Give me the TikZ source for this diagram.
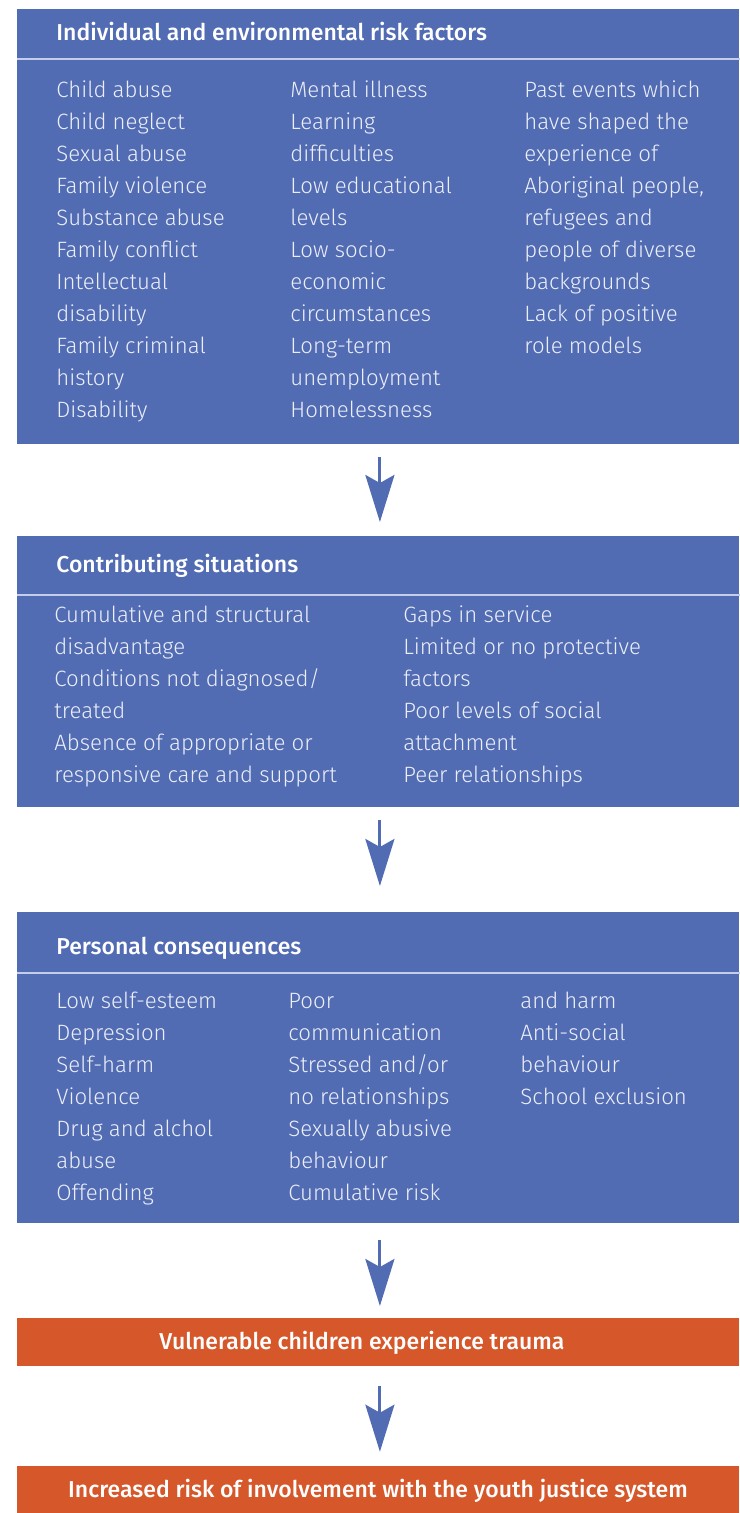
\documentclass[tikz,border=0pt]{standalone}
\usepackage{fontspec}
\setmainfont{Fira Sans}
\IfFontExistsTF{Fira Sans Light}
  {\newfontfamily\bodyfont{Fira Sans Light}}
  {\newfontfamily\bodyfont{Fira Sans}}
\IfFontExistsTF{Fira Sans Medium}
  {\newfontfamily\headfont{Fira Sans Medium}}
  {\newfontfamily\headfont{Fira Sans}[UprightFont=*, UprightFeatures={FakeBold=1}]}
\usetikzlibrary{arrows.meta,positioning}
\definecolor{riskblue}{RGB}{82,108,180}
\definecolor{traumaorange}{RGB}{213,87,42}
\definecolor{rulecolor}{RGB}{196,206,234}
\definecolor{bodytext}{RGB}{236,239,248}
\tikzset{
  font=\fontsize{11.1}{16}\selectfont\bodyfont,
  panel/.style={
    fill=riskblue,
    anchor=north west,
    minimum width=361pt,
    inner sep=0pt
  },
  band/.style={
    fill=traumaorange,
    anchor=north west,
    minimum width=361pt,
    inner sep=0pt
  },
  head/.style={
    anchor=base west,
    inner sep=0pt,
    text=white,
    font=\fontsize{11.5}{16}\selectfont\headfont
  },
  % base of a column = baseline of its last line
  col/.style={
    anchor=base west,
    inner sep=0pt,
    align=left,
    text=bodytext
  },
  bandtext/.style={
    anchor=base,
    inner sep=0pt,
    text=white,
    font=\fontsize{11.5}{16}\selectfont\headfont
  },
  divider/.style={draw=rulecolor, line width=0.9pt},
  arrow/.style={draw=riskblue, line width=1.5pt,
    -{Stealth[length=23.5pt, width=14.5pt, inset=4pt]}}
}
\begin{document}
\begin{tikzpicture}[x=0.5pt, y=-0.5pt]
\useasboundingbox (0,0) rectangle (739,1513);

% --- panels, top to bottom ---
\node[panel, minimum height=217.35pt] (risk) at (17,9) {};
\node[panel, minimum height=135.35pt] (situations) at (17,536) {};
\node[panel, minimum height=155.35pt] (consequences) at (17,912) {};
\node[band, minimum height=24pt] (trauma) at (17,1318) {};
\node[band, minimum height=23.5pt] (justice) at (17,1466) {};

% --- header rules ---
\draw[divider] ([yshift=-25pt]risk.north west) -- ([yshift=-25pt]risk.north east);
\draw[divider] ([yshift=-29.65pt]situations.north west) -- ([yshift=-29.65pt]situations.north east);
\draw[divider] ([yshift=-30.5pt]consequences.north west) -- ([yshift=-30.5pt]consequences.north east);

% --- Individual and environmental risk factors ---
\node[head] (riskhead) at (56,41) {Individual and environmental risk factors};
\node[col] (riskA) at (56,417.5) {Child abuse\\Child neglect\\Sexual abuse\\Family violence\\Substance abuse\\Family conflict\\Intellectual\\disability\\Family criminal\\history\\Disability};
\node[col] (riskB) at (290,417.5) {Mental illness\\Learning\\difficulties\\Low educational\\levels\\Low socio-\\economic\\circumstances\\Long-term\\unemployment\\Homelessness};
\node[col] (riskC) at (524,353.5) {Past events which\\have shaped the\\experience of\\Aboriginal people,\\refugees and\\people of diverse\\backgrounds\\Lack of positive\\role models};

% --- Contributing situations ---
\node[head] (sithead) at (56,572.7) {Contributing situations};
\node[col] (sitA) at (54,782) {Cumulative and structural\\disadvantage\\Conditions not diagnosed/\\treated\\Absence of appropriate or\\responsive care and support};
\node[col] (sitB) at (403,782) {Gaps in service\\Limited or no protective\\factors\\Poor levels of social\\attachment\\Peer relationships};

% --- Personal consequences ---
\node[head] (conhead) at (56,954) {Personal consequences};
\node[col] (conA) at (56,1200) {Low self-esteem\\Depression\\Self-harm\\Violence\\Drug and alchol\\abuse\\Offending};
\node[col] (conB) at (288,1200) {Poor\\communication\\Stressed and/or\\no relationships\\Sexually abusive\\behaviour\\Cumulative risk};
\node[col] (conC) at (520,1104) {and harm\\Anti-social\\behaviour\\School exclusion};

% --- outcome bands ---
\node[bandtext] (traumatext) at (362,1349) {Vulnerable children experience trauma};
\node[bandtext] (justicetext) at (378,1497) {Increased risk of involvement with the youth justice system};

% --- arrows ---
\draw[arrow, shorten <=6.15pt, shorten >=7pt] ([xshift=0.75pt]risk.south) -- ([xshift=0.75pt]situations.north);
\draw[arrow, shorten <=6.15pt, shorten >=13pt] ([xshift=0.75pt]situations.south) -- ([xshift=0.75pt]consequences.north);
\draw[arrow, shorten <=8.15pt, shorten >=6pt] ([xshift=0.75pt]consequences.south) -- ([xshift=0.75pt]trauma.north);
\draw[arrow, shorten <=9.5pt, shorten >=7.15pt] ([xshift=0.75pt]trauma.south) -- ([xshift=0.75pt]justice.north);

\end{tikzpicture}
\end{document}
